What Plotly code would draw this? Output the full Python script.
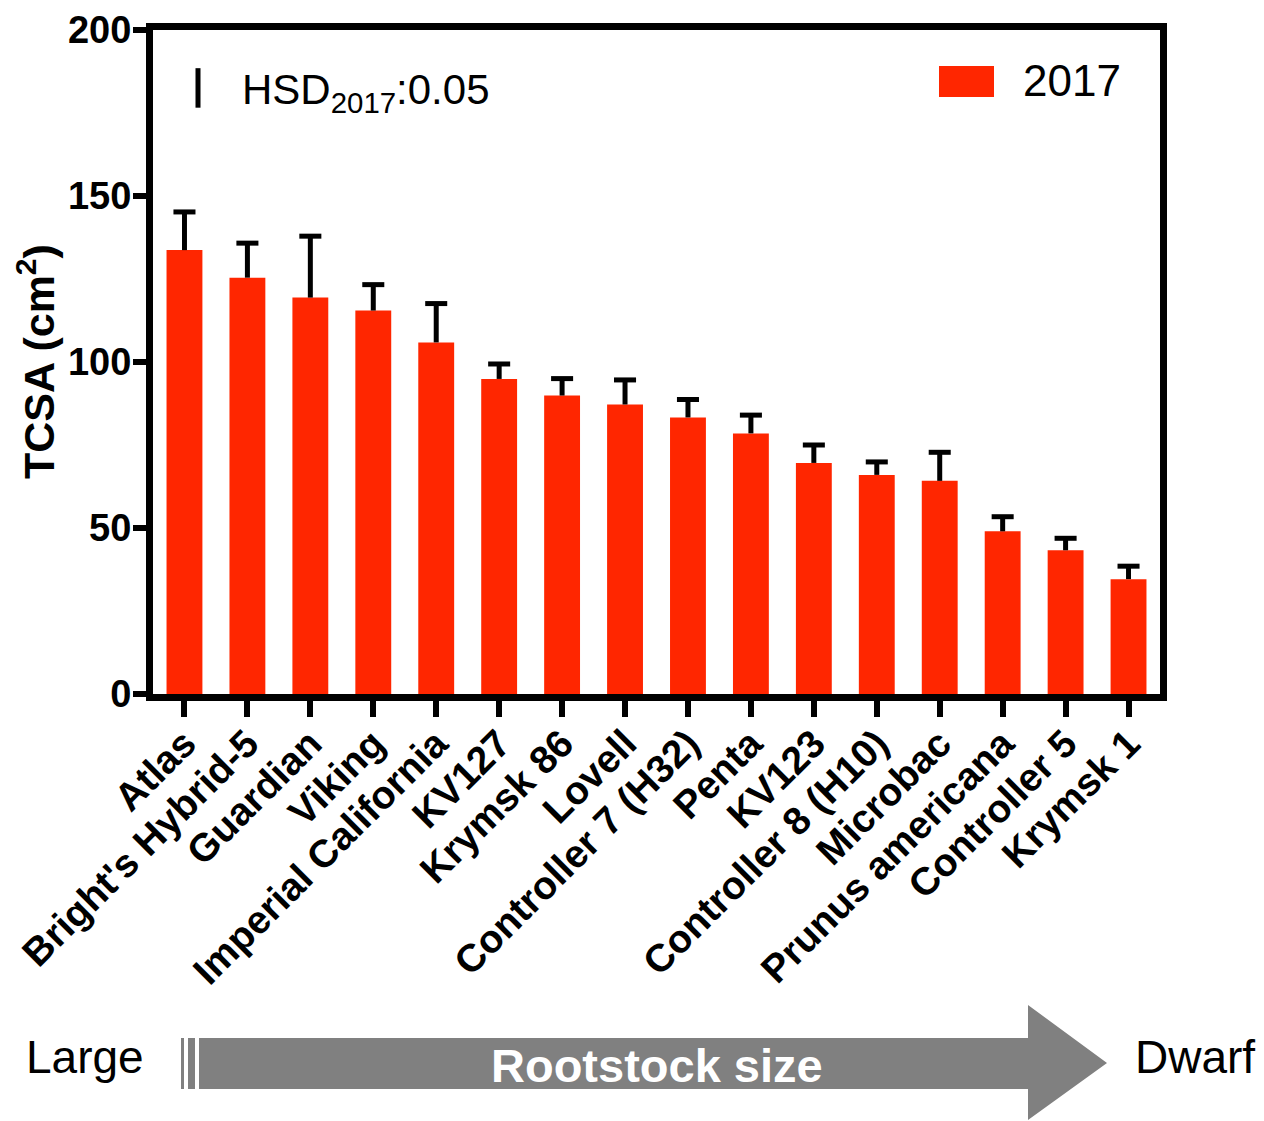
import plotly.graph_objects as go

# Rootstocks ordered from most vigorous to most dwarfing
rootstocks = [
    "Atlas", "Bright's Hybrid-5", "Guardian", "Viking", "Imperial California",
    "KV127", "Krymsk 86", "Lovell", "Controller 7 (H32)", "Penta", "KV123",
    "Controller 8 (H10)", "Microbac", "Prunus americana", "Controller 5", "Krymsk 1",
]
# Trunk cross-sectional area, 2017 (cm^2): mean and standard error
tcsa_2017 = [133.7, 125.4, 119.4, 115.5, 105.9, 94.9, 89.9, 87.2,
             83.3, 78.5, 69.6, 66.0, 64.2, 49.0, 43.3, 34.6]
se_2017 = [11.5, 10.4, 18.5, 7.8, 11.7, 4.5, 5.1, 7.4,
           5.4, 5.5, 5.4, 3.9, 8.6, 4.4, 3.6, 3.9]
season = "2017"
hsd_2017 = 11.9          # Tukey HSD (alpha = 0.05) drawn as a reference bar
y_ticks = [0, 50, 100, 150, 200]

BAR_RED = "#FF2600"
ARROW_GREY = "#808080"
FONT = "Liberation Sans, Arial, sans-serif"

W, H = 1264, 1121
L, R, T, B = 153, 104, 30, 427
PW, PH = W - L - R, H - T - B
CAP_HALF = 0.175          # half-width of error-bar caps, in category units


def px(x):
    """Horizontal pixel -> paper coordinate."""
    return (x - L) / PW


def py(y):
    """Vertical pixel -> paper coordinate."""
    return (H - B - y) / PH


fig = go.Figure()
fig.add_trace(go.Bar(
    x=rootstocks, y=tcsa_2017, name=season,
    marker=dict(color=BAR_RED, line=dict(width=0)),
    width=0.57, showlegend=False,
))

# Upper-only error bars (stem + cap) on a hidden numeric overlay axis
err_x, err_y = [], []
for i, (m, s) in enumerate(zip(tcsa_2017, se_2017)):
    err_x += [i, i, None, i - CAP_HALF, i + CAP_HALF, None]
    err_y += [m, m + s, None, m + s, m + s, None]
fig.add_trace(go.Scatter(
    x=err_x, y=err_y, xaxis="x2", mode="lines",
    line=dict(color="black", width=5), showlegend=False, hoverinfo="skip",
))

axis_common = dict(
    showline=True, linecolor="black", linewidth=7, mirror=True,
    ticks="outside", tickcolor="black", tickwidth=6, showgrid=False,
    zeroline=False,
)
fig.update_layout(
    xaxis=dict(**axis_common, ticklen=16, tickangle=-45,
               tickfont=dict(family=FONT, size=39, color="black",
                             weight="bold"),
               ticklabelstandoff=-12),
    xaxis2=dict(overlaying="x", range=[-0.5, len(rootstocks) - 0.5],
                visible=False),
    yaxis=dict(**axis_common, ticklen=13, range=[0, 200], tickvals=y_ticks,
               tickfont=dict(family=FONT, size=38, color="black",
                             weight="bold"),
               ticklabelstandoff=-6),
)

shapes = []
annotations = []

# HSD reference bar and its label
shapes.append(dict(type="line", xref="paper", yref="y",
                   x0=px(198), x1=px(198), y0=188.5 - hsd_2017, y1=188.5,
                   line=dict(color="black", width=5)))
annotations.append(dict(xref="paper", yref="paper", x=px(240), y=py(93),
                        xanchor="left", yanchor="middle", showarrow=False,
                        text="HSD<sub>2017</sub>:0.05",
                        font=dict(family=FONT, size=42, color="black")))

# Legend swatch and label
shapes.append(dict(type="rect", xref="paper", yref="paper",
                   x0=px(939), x1=px(994), y0=py(97), y1=py(66),
                   fillcolor=BAR_RED, line=dict(width=0)))
annotations.append(dict(xref="paper", yref="paper", x=px(1021), y=py(80),
                        xanchor="left", yanchor="middle", showarrow=False,
                        text=season,
                        font=dict(family=FONT, size=44, color="black")))

# Y-axis title
annotations.append(dict(xref="paper", yref="paper", x=px(36), y=py(362),
                        xanchor="center", yanchor="middle", showarrow=False,
                        textangle=-90, text="TCSA (cm<sup>2</sup>)",
                        font=dict(family=FONT, size=43, color="black",
                                  weight="bold")))

# Rootstock size arrow
arrow_path = (
    f"M {px(199)},{py(1038)} L {px(1028)},{py(1038)} L {px(1028)},{py(1005)} "
    f"L {px(1107)},{py(1063)} L {px(1028)},{py(1120)} L {px(1028)},{py(1089)} "
    f"L {px(199)},{py(1089)} Z"
)
shapes.append(dict(type="path", xref="paper", yref="paper", path=arrow_path,
                   fillcolor=ARROW_GREY, line=dict(width=0)))
for x0, x1 in [(181, 184), (188, 195)]:
    shapes.append(dict(type="rect", xref="paper", yref="paper",
                       x0=px(x0), x1=px(x1), y0=py(1089), y1=py(1038),
                       fillcolor=ARROW_GREY, line=dict(width=0)))

annotations.append(dict(xref="paper", yref="paper", x=px(657), y=py(1065),
                        xanchor="center", yanchor="middle", showarrow=False,
                        text="Rootstock size",
                        font=dict(family=FONT, size=47, color="white",
                                  weight="bold")))
annotations.append(dict(xref="paper", yref="paper", x=px(24), y=py(1057),
                        xanchor="left", yanchor="middle", showarrow=False,
                        text="Large",
                        font=dict(family=FONT, size=46, color="black")))
annotations.append(dict(xref="paper", yref="paper", x=px(1133), y=py(1057),
                        xanchor="left", yanchor="middle", showarrow=False,
                        text="Dwarf",
                        font=dict(family=FONT, size=46, color="black")))

fig.update_layout(
    width=W, height=H,
    margin=dict(l=L, r=R, t=T, b=B, autoexpand=False),
    paper_bgcolor="white", plot_bgcolor="white",
    shapes=shapes, annotations=annotations,
)

fig.write_html("out.html")
